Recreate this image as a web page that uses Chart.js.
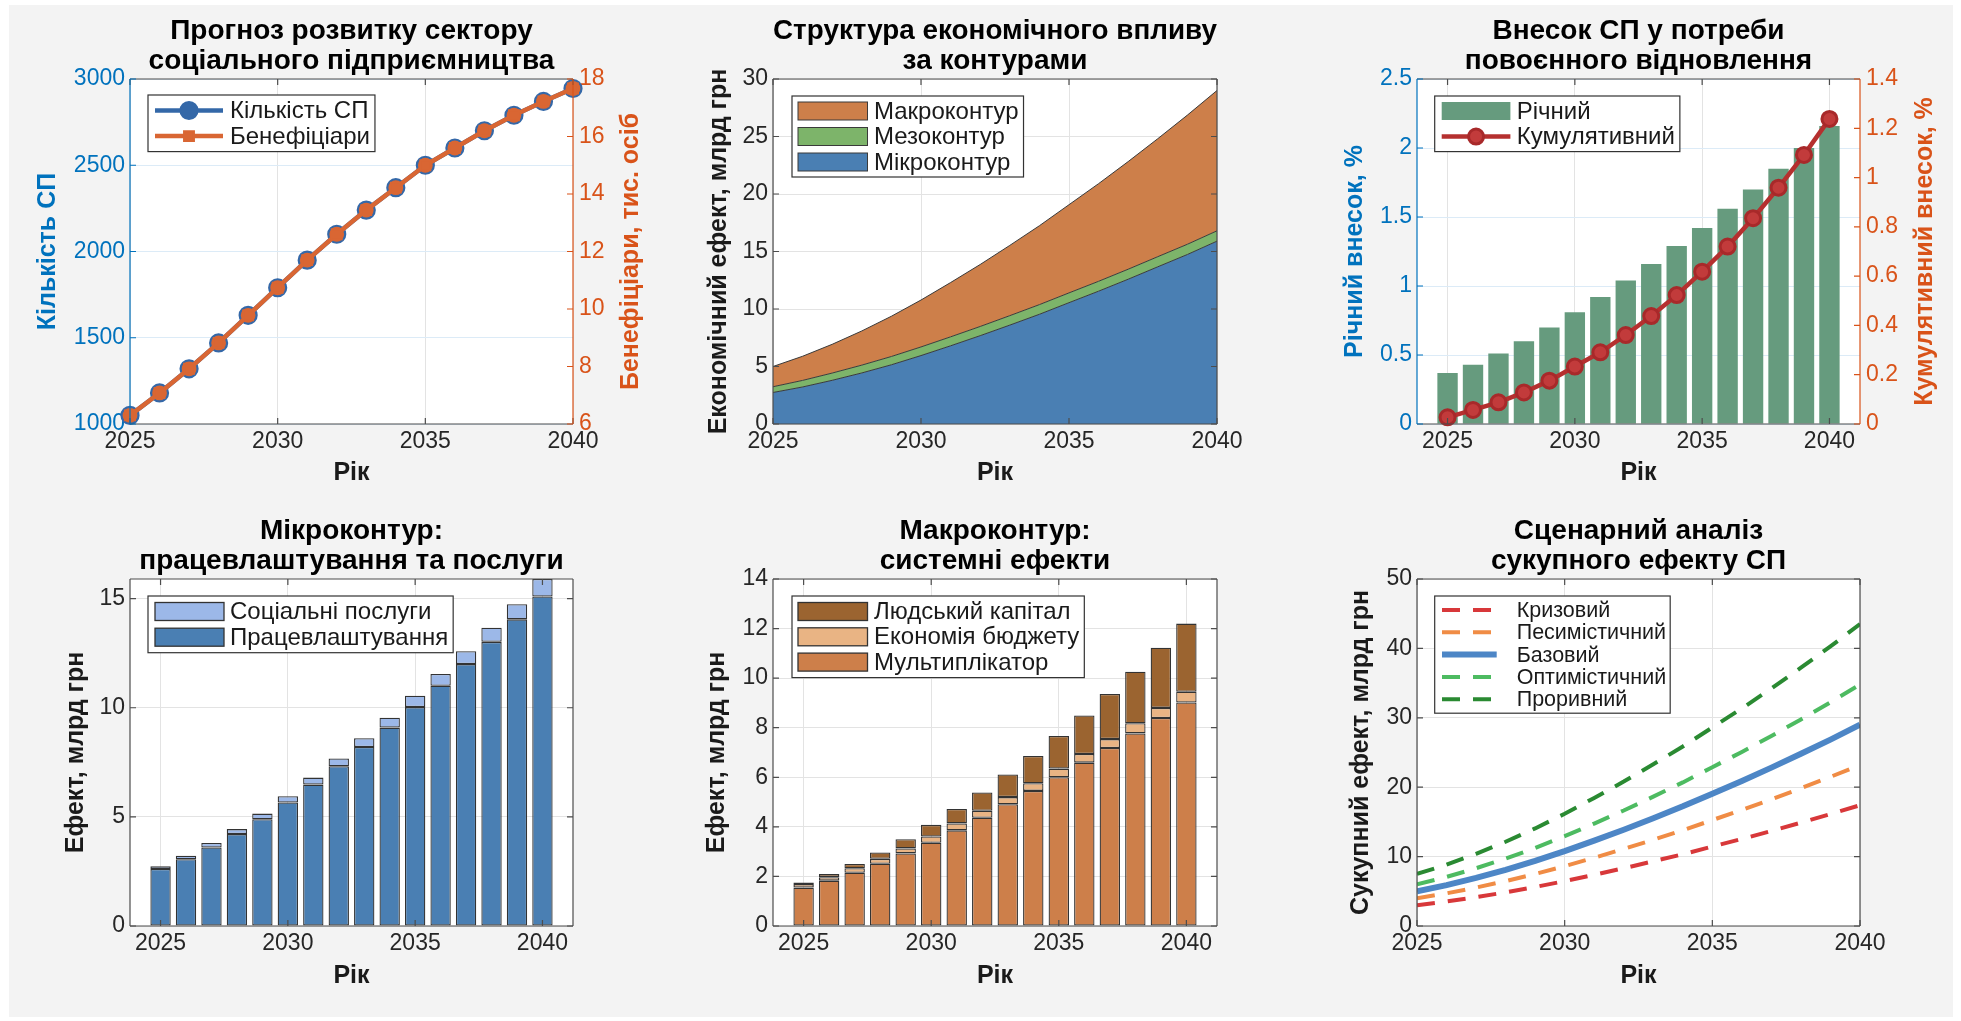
<!DOCTYPE html>
<html><head><meta charset="utf-8">
<script src="https://cdn.jsdelivr.net/npm/chart.js@4.4.1/dist/chart.umd.min.js"></script>
<style>
html,body{margin:0;padding:0;background:#ffffff;width:1961px;height:1021px;overflow:hidden;position:relative;}
#bg{position:absolute;left:9px;top:5px;width:1944px;height:1012px;background:#f3f3f3;}
canvas{position:absolute;}
</style></head><body>
<div id="bg"></div>
<canvas id="c1"></canvas><canvas id="c2"></canvas><canvas id="c3"></canvas>
<canvas id="c4"></canvas><canvas id="c5"></canvas><canvas id="c6"></canvas>
<script>
// ---------------- DATA ----------------
const years = [2025,2026,2027,2028,2029,2030,2031,2032,2033,2034,2035,2036,2037,2038,2039,2040];
const xTickValues = [2025,2030,2035,2040];

// Panel 1
const spCount = [1050,1180,1320,1470,1630,1790,1950,2100,2240,2370,2500,2600,2700,2790,2870,2945];
const beneficiaries = [6.30,7.08,7.92,8.82,9.78,10.74,11.70,12.60,13.44,14.22,15.00,15.60,16.20,16.74,17.22,17.67];
const p1LeftTicks = [1000,1500,2000,2500,3000];
const p1RightTicks = [6,8,10,12,14,16,18];

// Panel 2
const microTotal = [2.74,3.22,3.80,4.44,5.15,5.95,6.80,7.68,8.60,9.54,10.55,11.55,12.59,13.67,14.74,15.90];
const mesoEffect = [0.50,0.57,0.63,0.68,0.72,0.75,0.78,0.80,0.82,0.84,0.85,0.86,0.87,0.88,0.89,0.90];
const macroTotal = [1.76,2.10,2.50,2.97,3.50,4.08,4.72,5.39,6.11,6.86,7.67,8.49,9.36,10.26,11.23,12.20];
const p2Ticks = [0,5,10,15,20,25,30];

// Panel 3
const annualShare = [0.37,0.43,0.51,0.60,0.70,0.81,0.92,1.04,1.16,1.29,1.42,1.56,1.70,1.85,2.00,2.16];
const cumulativeShare = [0.027,0.057,0.088,0.128,0.176,0.233,0.291,0.361,0.438,0.523,0.618,0.720,0.835,0.959,1.092,1.238];
const p3LeftTicks = [0,0.5,1,1.5,2,2.5];
const p3RightTicks = [0,0.2,0.4,0.6,0.8,1,1.2,1.4];

// Panel 4
const employment = [2.61,3.06,3.60,4.21,4.89,5.66,6.48,7.32,8.20,9.09,10.03,11.01,12.00,13.02,14.05,15.10];
const socialServices = [0.13,0.16,0.20,0.23,0.26,0.29,0.32,0.36,0.40,0.45,0.52,0.54,0.59,0.65,0.69,0.80];
const p4Ticks = [0,5,10,15];

// Panel 5
const multiplier = [1.55,1.83,2.15,2.51,2.93,3.36,3.86,4.37,4.91,5.45,6.00,6.59,7.18,7.77,8.39,9.02];
const budgetSavings = [0.14,0.14,0.18,0.20,0.20,0.25,0.28,0.28,0.29,0.31,0.35,0.35,0.36,0.41,0.41,0.43];
const humanCapital = [0.07,0.13,0.17,0.26,0.37,0.47,0.58,0.74,0.91,1.10,1.32,1.55,1.82,2.08,2.43,2.75];
const p5Ticks = [0,2,4,6,8,10,12,14];

// Panel 6
const crisis = [3.00,3.53,4.16,4.85,5.62,6.47,7.38,8.32,9.32,10.34,11.44,12.54,13.69,14.89,16.12,17.40];
const pessimistic = [4.00,4.71,5.54,6.47,7.50,8.62,9.84,11.10,12.42,13.79,15.26,16.72,18.26,19.85,21.49,23.20];
const baseline = [5.00,5.89,6.93,8.09,9.37,10.78,12.30,13.87,15.53,17.24,19.07,20.90,22.82,24.81,26.86,29.00];
const optimistic = [6.00,7.07,8.32,9.71,11.24,12.94,14.76,16.64,18.64,20.69,22.88,25.08,27.38,29.77,32.23,34.80];
const breakthrough = [7.50,8.84,10.40,12.14,14.06,16.17,18.45,20.81,23.30,25.86,28.61,31.35,34.23,37.22,40.29,43.50];
const p6Ticks = [0,10,20,30,40,50];

// ---------------- STYLE ----------------
const FONT = "'Liberation Sans', Arial, Helvetica, sans-serif";
const TICK = 23, LEG = 24, LAB = 25, TIT = 28, TIT_LH = 1.04, LH = 1.2;
const TXT = '#262626', GRID = '#e3e3e3', BLUEGRID = '#dcebf7';
const LBLUE = '#0072BD', RORANGE = '#D95319';
Chart.defaults.font.family = FONT;
Chart.defaults.color = TXT;

const pts = arr => years.map((y, i) => ({x: y, y: arr[i]}));

function drawMarker(ctx, d, x, y, fillOverride) {
  ctx.save();
  ctx.fillStyle = fillOverride || d.pointBackgroundColor; ctx.strokeStyle = d.pointBorderColor; ctx.lineWidth = d.pointBorderWidth;
  ctx.setLineDash([]);
  ctx.beginPath();
  if (d.pointStyle === 'rect') { const s = d.pointRadius * Math.SQRT1_2; ctx.rect(x - s, y - s, 2*s, 2*s); }
  else ctx.arc(x, y, d.pointRadius, 0, Math.PI*2);
  ctx.fill(); ctx.stroke(); ctx.restore();
}

const framePlugin = {
  id: 'matFrame',
  beforeDraw(chart) {
    const {ctx, chartArea: a} = chart;
    ctx.save(); ctx.fillStyle = '#ffffff';
    ctx.fillRect(a.left, a.top, a.right - a.left, a.bottom - a.top); ctx.restore();
  },
  afterDatasetsDraw(chart, args, o) {
    const {ctx, chartArea: a, scales} = chart;
    const tl = 6, gray = '#4d4d4d';
    ctx.save(); ctx.lineWidth = 1.2;
    const seg = (color, list) => { ctx.strokeStyle = color; ctx.beginPath(); list.forEach(p => { ctx.moveTo(p[0], p[1]); ctx.lineTo(p[2], p[3]); }); ctx.stroke(); };
    const xs = scales.x, yl = scales.y, yr = scales.y2;
    const hx = [[a.left, a.top, a.right, a.top], [a.left, a.bottom, a.right, a.bottom]];
    xs.ticks.forEach(t => { const p = xs.getPixelForValue(t.value); hx.push([p, a.bottom, p, a.bottom - tl], [p, a.top, p, a.top + tl]); });
    seg(gray, hx);
    const lv = [[a.left, a.top, a.left, a.bottom]];
    yl.ticks.forEach(t => { const p = yl.getPixelForValue(t.value); lv.push([a.left, p, a.left + tl, p]); });
    seg(o.leftColor || gray, lv);
    const rs = yr || yl;
    const rv = [[a.right, a.top, a.right, a.bottom]];
    rs.ticks.forEach(t => { const p = rs.getPixelForValue(t.value); rv.push([a.right, p, a.right - tl, p]); });
    seg(o.rightColor || gray, rv);
    ctx.restore();
  },
  afterDraw(chart, args, o) {
    if (!o.rightTitle) return;
    const {ctx, chartArea: a} = chart;
    ctx.save();
    ctx.translate(o.rightTitle.x, (a.top + a.bottom) / 2);
    ctx.rotate(-Math.PI / 2);
    ctx.font = `bold ${LAB}px ${FONT}`;
    ctx.fillStyle = o.rightTitle.color; ctx.textAlign = 'center'; ctx.textBaseline = 'middle';
    ctx.fillText(o.rightTitle.text, 0, 0);
    ctx.restore();
  }
};

const legendPlugin = {
  id: 'matLegend',
  afterDraw(chart, args, o) {
    if (!o || !o.order) return;
    const {ctx, chartArea: a} = chart;
    const ds = o.order.map(i => chart.data.datasets[i]);
    const fs = o.fontSize || LEG;
    ctx.save();
    ctx.font = `${fs}px ${FONT}`;
    const maxW = Math.max(...ds.map(d => ctx.measureText(d.label).width));
    const bx = a.left + o.x, by = a.top + o.y;
    const bw = o.textX + maxW + o.padR, bh = 2 * o.first + (ds.length - 1) * o.rowH;
    ctx.fillStyle = '#ffffff'; ctx.fillRect(bx, by, bw, bh);
    ctx.strokeStyle = '#333333'; ctx.lineWidth = 1.2; ctx.strokeRect(bx, by, bw, bh);
    ds.forEach((d, k) => {
      const cy = by + o.first + k * o.rowH;
      const x0 = bx + o.sx0, x1 = bx + o.sx1;
      if (d.type === 'bar' || d.fill) {
        const ph = o.patchH;
        ctx.fillStyle = d.backgroundColor; ctx.fillRect(x0, cy - ph/2, x1 - x0, ph);
        if (d.borderWidth) { ctx.strokeStyle = d.borderColor; ctx.lineWidth = d.borderWidth; ctx.strokeRect(x0, cy - ph/2, x1 - x0, ph); }
      } else {
        ctx.strokeStyle = d.borderColor; ctx.lineWidth = d.borderWidth;
        ctx.setLineDash(d.borderDash || []);
        ctx.beginPath(); ctx.moveTo(x0, cy); ctx.lineTo(x1, cy); ctx.stroke();
        ctx.setLineDash([]);
        if (d.pointRadius > 0) drawMarker(ctx, d, (x0 + x1) / 2, cy, o.solidMarkers ? d.pointBorderColor : null);
      }
      ctx.fillStyle = '#1a1a1a'; ctx.textAlign = 'left'; ctx.textBaseline = 'middle';
      ctx.font = `${fs}px ${FONT}`;
      ctx.fillText(d.label, bx + o.textX, cy + 1);
    });
    ctx.restore();
  }
};

function xScale(g, min, max) {
  return {
    type: 'linear', position: 'bottom', min, max, offset: false, bounds: 'data',
    afterBuildTicks: s => { s.ticks = xTickValues.map(v => ({value: v})); },
    afterFit: s => { s.height = g.cy + g.ch - g.B; },
    ticks: {autoSkip: false, maxRotation: 0, padding: 4, color: TXT, font: {size: TICK}, callback: v => String(v)},
    grid: {color: GRID, lineWidth: 1, drawTicks: false, offset: false},
    border: {display: false},
    title: {display: true, text: 'Рік', color: '#1a1a1a', font: {size: LAB, weight: 'bold', lineHeight: LH},
            padding: {top: 0, bottom: g.cy + g.ch - g.xTitleY - LAB*LH/2}}
  };
}
function yScale(g, min, max, tickVals, label, color, gridColor, stacked) {
  return {
    type: 'linear', position: 'left', min, max, stacked: !!stacked,
    afterBuildTicks: s => { s.ticks = tickVals.map(v => ({value: v})); },
    afterFit: s => { s.width = g.L - g.cx; },
    ticks: {padding: 5, color, font: {size: TICK}, callback: v => String(v)},
    grid: {color: gridColor, lineWidth: 1, drawTicks: false},
    border: {display: false},
    title: {display: true, text: label, color: color === TXT ? '#1a1a1a' : color, font: {size: LAB, weight: 'bold', lineHeight: LH},
            padding: {top: g.yTitleX - g.cx - LAB*LH/2, bottom: 0}}
  };
}
function y2Scale(g, min, max, tickVals, color) {
  return {
    type: 'linear', position: 'right', min, max,
    afterBuildTicks: s => { s.ticks = tickVals.map(v => ({value: v})); },
    afterFit: s => { s.width = g.cx + g.cw - g.R; },
    ticks: {padding: 6, color, font: {size: TICK}, callback: v => String(v)},
    grid: {display: false, drawTicks: false},
    border: {display: false},
    title: {display: false}
  };
}
function baseOptions(g, title, hasY2, legend, frame) {
  const tp = g.tY - g.cy - TIT*TIT_LH/2;
  return {
    responsive: false, animation: false, devicePixelRatio: 1,
    layout: {padding: {left: 0, top: 0, bottom: 0, right: hasY2 ? 0 : (g.cx + g.cw - g.R)}},
    plugins: {
      legend: {display: false}, tooltip: {enabled: false},
      title: {display: true, fullSize: false, text: title, color: '#000000',
              font: {size: TIT, weight: 'bold', lineHeight: TIT_LH},
              padding: {top: tp, bottom: (g.T - g.cy) - tp - 2*TIT*TIT_LH}},
      matLegend: legend,
      matFrame: frame || {}
    }
  };
}
function setupCanvas(id, g) {
  const c = document.getElementById(id);
  c.width = g.cw; c.height = g.ch;
  c.style.left = g.cx + 'px'; c.style.top = g.cy + 'px';
  c.style.width = g.cw + 'px'; c.style.height = g.ch + 'px';
  return c;
}
const plugins = [framePlugin, legendPlugin];
const LEGBASE = {x: 18, y: 16, first: 15.5, rowH: 25.6, sx0: 7, sx1: 75, textX: 82, padR: 5, patchH: 18};

// ---------------- GEOMETRY ----------------
const g1 = {cx: 9, cy: 5, cw: 646, ch: 500, L: 130, R: 573, T: 79, B: 424, tY: 31.7, yTitleX: 48, xTitleY: 473.3, y2TitleX: 631};
const g2 = {cx: 655, cy: 5, cw: 645, ch: 500, L: 773, R: 1217, T: 79, B: 424, tY: 31.7, yTitleX: 719.5, xTitleY: 473.3};
const g3 = {cx: 1300, cy: 5, cw: 653, ch: 500, L: 1417, R: 1860, T: 79, B: 424, tY: 31.7, yTitleX: 1354.7, xTitleY: 473.3, y2TitleX: 1925};
const g4 = {cx: 9, cy: 505, cw: 646, ch: 512, L: 130, R: 573, T: 579, B: 926, tY: 531.7, yTitleX: 75.8, xTitleY: 976};
const g5 = {cx: 655, cy: 505, cw: 645, ch: 512, L: 773, R: 1217, T: 579, B: 926, tY: 531.7, yTitleX: 717, xTitleY: 976};
const g6 = {cx: 1300, cy: 505, cw: 653, ch: 512, L: 1417, R: 1860, T: 579, B: 926, tY: 531.7, yTitleX: 1361, xTitleY: 976};

// ---------------- PANEL 1 ----------------
{
  const o = baseOptions(g1, ['Прогноз розвитку сектору', 'соціального підприємництва'], true,
    Object.assign({}, LEGBASE, {order: [0, 1], solidMarkers: true}),
    {leftColor: LBLUE, rightColor: RORANGE, rightTitle: {text: 'Бенефіціари, тис. осіб', color: RORANGE, x: g1.y2TitleX - g1.cx}});
  o.scales = {x: xScale(g1, 2025, 2040), y: yScale(g1, 1000, 3000, p1LeftTicks, 'Кількість СП', LBLUE, BLUEGRID), y2: y2Scale(g1, 6, 18, p1RightTicks, RORANGE)};
  new Chart(setupCanvas('c1', g1), {type: 'line', plugins, options: o, data: {datasets: [
    {type: 'line', label: 'Кількість СП', data: pts(spCount), yAxisID: 'y', order: 2, clip: false,
     borderColor: '#3468a8', borderWidth: 4.5, pointStyle: 'circle', pointRadius: 8.5, pointBorderWidth: 2.2,
     pointBorderColor: '#3468a8', pointBackgroundColor: '#d96633'},
    {type: 'line', label: 'Бенефіціари', data: pts(beneficiaries), yAxisID: 'y2', order: 1, clip: false,
     borderColor: '#d96633', borderWidth: 4.5, pointStyle: 'rect', pointRadius: 7, pointBorderWidth: 2,
     pointBorderColor: '#d96633', pointBackgroundColor: '#d96633'}
  ]}});
}

// ---------------- PANEL 2 ----------------
{
  const o = baseOptions(g2, ['Структура економічного впливу', 'за контурами'], false,
    Object.assign({}, LEGBASE, {x: 19, y: 17, first: 15, rowH: 25.5, sx0: 6, sx1: 75.5, order: [2, 1, 0]}));
  o.scales = {x: xScale(g2, 2025, 2040), y: yScale(g2, 0, 30, p2Ticks, 'Економічний ефект, млрд грн', TXT, GRID, true)};
  const area = (label, arr, color, fill) => ({type: 'line', label, data: pts(arr), fill, backgroundColor: color,
    borderColor: '#3a3a3a', borderWidth: 1, pointRadius: 0, tension: 0});
  new Chart(setupCanvas('c2', g2), {type: 'line', plugins, options: o, data: {datasets: [
    area('Мікроконтур', microTotal, '#4a7fb3', 'origin'),
    area('Мезоконтур', mesoEffect, '#7db46a', '-1'),
    area('Макроконтур', macroTotal, '#cd7f4a', '-1')
  ]}});
}

// ---------------- PANEL 3 ----------------
{
  const o = baseOptions(g3, ['Внесок СП у потреби', 'повоєнного відновлення'], true,
    Object.assign({}, LEGBASE, {x: 17.7, y: 17, first: 15, rowH: 25.6, sx0: 7, sx1: 75.7, order: [0, 1]}),
    {leftColor: LBLUE, rightColor: RORANGE, rightTitle: {text: 'Кумулятивний внесок, %', color: RORANGE, x: g3.y2TitleX - g3.cx}});
  o.scales = {x: xScale(g3, 2023.8, 2041.2), y: yScale(g3, 0, 2.5, p3LeftTicks, 'Річний внесок, %', LBLUE, BLUEGRID), y2: y2Scale(g3, 0, 1.4, p3RightTicks, RORANGE)};
  new Chart(setupCanvas('c3', g3), {type: 'bar', plugins, options: o, data: {datasets: [
    {type: 'bar', label: 'Річний', data: pts(annualShare), yAxisID: 'y', order: 2, backgroundColor: '#669b7e',
     borderWidth: 0, categoryPercentage: 1, barPercentage: 0.8, grouped: false},
    {type: 'line', label: 'Кумулятивний', data: pts(cumulativeShare), yAxisID: 'y2', order: 1, clip: false,
     borderColor: '#b5302f', borderWidth: 4.5, pointStyle: 'circle', pointRadius: 7.5, pointBorderWidth: 3,
     pointBorderColor: '#a8292a', pointBackgroundColor: '#c23b3b'}
  ]}});
}

// ---------------- PANEL 4 ----------------
{
  const o = baseOptions(g4, ['Мікроконтур:', 'працевлаштування та послуги'], false,
    Object.assign({}, LEGBASE, {x: 18, y: 17, first: 15.5, rowH: 25.7, sx0: 7, sx1: 76, order: [1, 0]}));
  o.scales = {x: xScale(g4, 2023.8, 2041.2), y: yScale(g4, 0, 15.9, p4Ticks, 'Ефект, млрд грн', TXT, GRID, true)};
  const bar = (label, arr, color) => ({type: 'bar', label, data: pts(arr), backgroundColor: color, borderColor: '#333333',
    borderWidth: 1.3, borderSkipped: false, categoryPercentage: 1, barPercentage: 0.8, grouped: false});
  new Chart(setupCanvas('c4', g4), {type: 'bar', plugins, options: o, data: {datasets: [
    bar('Працевлаштування', employment, '#4a7fb3'),
    bar('Соціальні послуги', socialServices, '#9cb8e8')
  ]}});
}

// ---------------- PANEL 5 ----------------
{
  const o = baseOptions(g5, ['Макроконтур:', 'системні ефекти'], false,
    Object.assign({}, LEGBASE, {x: 19, y: 17, first: 15.5, rowH: 25.3, sx0: 6, sx1: 75.5, order: [2, 1, 0]}));
  o.scales = {x: xScale(g5, 2023.8, 2041.2), y: yScale(g5, 0, 14, p5Ticks, 'Ефект, млрд грн', TXT, GRID, true)};
  const bar = (label, arr, color) => ({type: 'bar', label, data: pts(arr), backgroundColor: color, borderColor: '#333333',
    borderWidth: 1.3, borderSkipped: false, categoryPercentage: 1, barPercentage: 0.8, grouped: false});
  new Chart(setupCanvas('c5', g5), {type: 'bar', plugins, options: o, data: {datasets: [
    bar('Мультиплікатор', multiplier, '#cd7f4a'),
    bar('Економія бюджету', budgetSavings, '#e9b484'),
    bar('Людський капітал', humanCapital, '#9b6430')
  ]}});
}

// ---------------- PANEL 6 ----------------
{
  const o = baseOptions(g6, ['Сценарний аналіз', 'сукупного ефекту СП'], false,
    Object.assign({}, LEGBASE, {x: 17.7, y: 17, first: 14, rowH: 22.3, sx0: 7.3, sx1: 62, textX: 82, fontSize: 21.5, padR: 4, order: [0, 1, 2, 3, 4]}));
  o.scales = {x: xScale(g6, 2025, 2040), y: yScale(g6, 0, 50, p6Ticks, 'Сукупний ефект, млрд грн', TXT, GRID)};
  const ln = (label, arr, color, dashed) => ({type: 'line', label, data: pts(arr), borderColor: color,
    borderWidth: dashed ? 4 : 6, borderDash: dashed ? [18, 13] : [], pointRadius: 0, tension: 0, fill: false});
  new Chart(setupCanvas('c6', g6), {type: 'line', plugins, options: o, data: {datasets: [
    ln('Кризовий', crisis, '#d8383a', true),
    ln('Песимістичний', pessimistic, '#f08c45', true),
    ln('Базовий', baseline, '#4d86c6', false),
    ln('Оптимістичний', optimistic, '#4dbb61', true),
    ln('Проривний', breakthrough, '#2a8a32', true)
  ]}});
}
</script>
</body></html>
